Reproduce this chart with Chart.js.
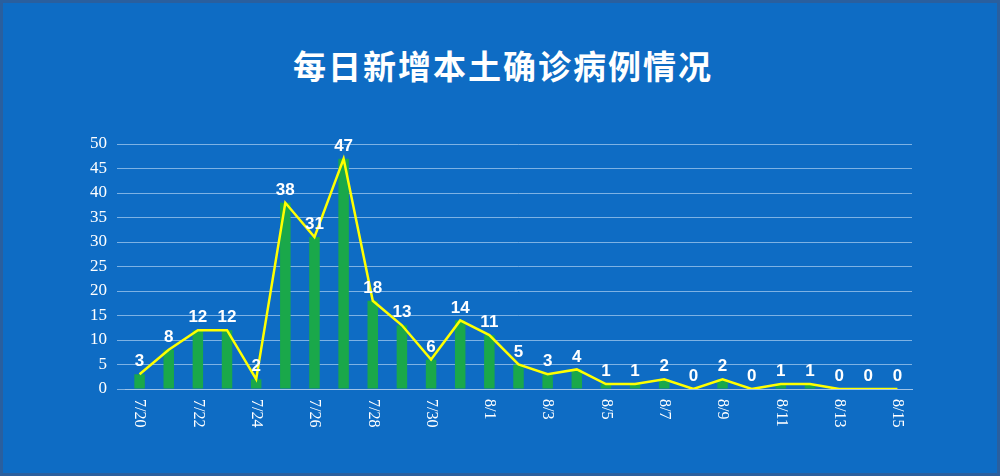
<!DOCTYPE html>
<html><head><meta charset="utf-8">
<script src="https://cdn.jsdelivr.net/npm/chart.js@4/dist/chart.umd.min.js"></script>
<style>
html,body{margin:0;padding:0;background:#0e6cc4;}
#wrap{position:relative;width:1000px;height:476px;box-sizing:border-box;border:3px solid #2a5f9e;background:#0e6cc4;}
#title{position:absolute;left:0;top:38px;width:1000px;text-align:center;color:#fff;font:bold 33px "Noto Sans CJK SC";letter-spacing:2px;}
canvas{position:absolute;left:-3px;top:-3px;}
</style></head><body>
<div id="wrap"><div id="title">每日新增本土确诊病例情况</div><canvas id="c" width="1000" height="476"></canvas></div>
<script>
const categories=["7/20","7/21","7/22","7/23","7/24","7/25","7/26","7/27","7/28","7/29","7/30","7/31","8/1","8/2","8/3","8/4","8/5","8/6","8/7","8/8","8/9","8/10","8/11","8/12","8/13","8/14","8/15"];
const cases=[3,8,12,12,2,38,31,47,18,13,6,14,11,5,3,4,1,1,2,0,2,0,1,1,0,0,0];
const yTicks=[0,5,10,15,20,25,30,35,40,45,50];
const labelsPlugin={id:'lbl',afterDatasetsDraw(ch){
 const ctx=ch.ctx, xs=ch.scales.x, ys=ch.scales.y;
 ctx.save();ctx.fillStyle='#fff';
 ctx.font='bold 17px "Liberation Sans"';ctx.textAlign='center';ctx.textBaseline='bottom';
 cases.forEach((v,i)=>{ctx.fillText(String(v),xs.getPixelForValue(i),ys.getPixelForValue(v)-4);});
 ctx.font='16px "Liberation Serif"';ctx.textAlign='left';ctx.textBaseline='middle';
 categories.forEach((c,i)=>{if(i%2)return;const x=xs.getPixelForValue(i);
  ctx.save();ctx.translate(x,ch.chartArea.bottom+10);ctx.rotate(Math.PI/2);ctx.fillText(c,0,0);ctx.restore();});
 ctx.restore();}};
new Chart(document.getElementById('c'),{
 data:{labels:categories,datasets:[
  {type:'line',data:cases,borderColor:'#ffff00',borderWidth:2.5,pointRadius:0,tension:0,order:0},
  {type:'bar',data:cases,backgroundColor:'#1aa84a',barPercentage:0.36,categoryPercentage:1,order:1}]},
 options:{responsive:false,animation:false,
  layout:{padding:{top:144,right:88,bottom:0,left:0}},
  plugins:{legend:{display:false},tooltip:{enabled:false}},
  scales:{
   x:{offset:true,grid:{display:false},border:{color:'#9fc3e8'},ticks:{display:false},afterFit(s){s.height=87;}},
   y:{min:0,max:50,afterBuildTicks(s){s.ticks=yTicks.map(v=>({value:v}));},
      grid:{color:'rgba(200,225,250,0.6)',lineWidth:1},border:{display:false},
      ticks:{color:'#fff',font:{family:'Liberation Serif',size:17},padding:10},
      afterFit(s){s.width=125;}}}},
 plugins:[labelsPlugin]});
</script></body></html>
